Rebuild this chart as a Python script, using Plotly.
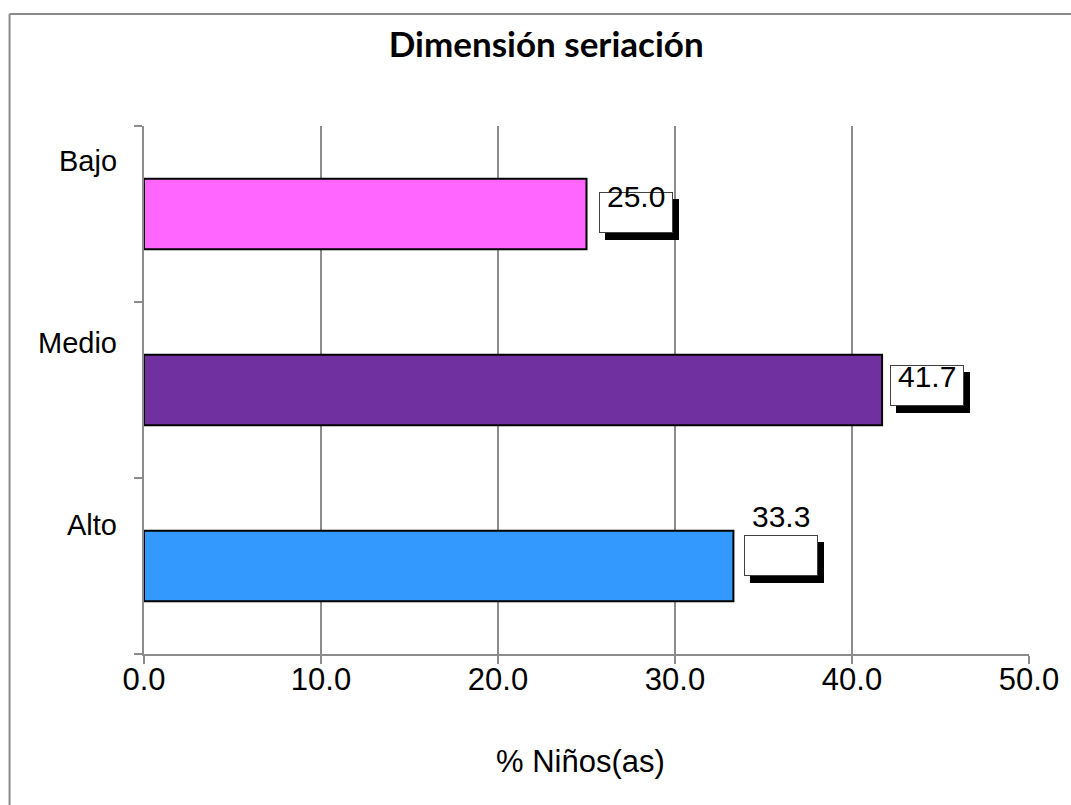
import plotly.graph_objects as go

# Levels of the "seriación" dimension and the share of children in each
niveles = ["Alto", "Medio", "Bajo"]
porcentajes = [33.3, 41.7, 25.0]
colores = ["#3399FF", "#7030A0", "#FF66FF"]
eje_x_ticks = [0, 10, 20, 30, 40, 50]

# Category label lift above each band centre (pixels)
etiqueta_dy = [41, 47, 53]
# Label-box placement (pixels): gap after bar end, box vertical shift, text vertical shift
caja_gap = [11, 8, 12]
caja_dy = [11, 5, 2]
texto_dy = [50, 14, 18]

CAJA_W, CAJA_H = 72, 39
FUENTE = "Liberation Sans, Arial, sans-serif"

fig = go.Figure()
fig.add_trace(go.Bar(
    y=niveles,
    x=porcentajes,
    orientation="h",
    marker=dict(color=colores, line=dict(color="#000000", width=2)),
    showlegend=False,
    hoverinfo="x+y",
))

annotations = []
# Category labels, set above each band
for nivel, dy in zip(niveles, etiqueta_dy):
    annotations.append(dict(
        x=0, xref="paper", y=nivel, yref="y",
        text=nivel, showarrow=False, xanchor="right", yanchor="middle",
        xshift=-25, yshift=dy,
        font=dict(family=FUENTE, size=29, color="#000000"),
    ))

# Value labels: shadow, white box, then the number
for nivel, v, gap, bdy, tdy in zip(niveles, porcentajes, caja_gap, caja_dy, texto_dy):
    annotations.append(dict(
        x=v, xref="x", y=nivel, yref="y", text=" ", showarrow=False,
        xanchor="left", yanchor="middle", xshift=gap + 6, yshift=bdy - 7,
        width=CAJA_W, height=CAJA_H, bgcolor="#000000",
        bordercolor="#000000", borderwidth=1, borderpad=0,
    ))
    annotations.append(dict(
        x=v, xref="x", y=nivel, yref="y", text=" ", showarrow=False,
        xanchor="left", yanchor="middle", xshift=gap, yshift=bdy,
        width=CAJA_W, height=CAJA_H, bgcolor="#FFFFFF",
        bordercolor="#404040", borderwidth=1, borderpad=0,
    ))
    annotations.append(dict(
        x=v, xref="x", y=nivel, yref="y", text=f"{v:.1f}", showarrow=False,
        xanchor="center", yanchor="middle", xshift=gap + CAJA_W / 2 + 1, yshift=tdy,
        font=dict(family=FUENTE, size=30, color="#000000"),
    ))

# Axis title, centred under the tick labels
annotations.append(dict(
    x=0.493, xref="paper", y=-0.203, yref="paper",
    text="% Niños(as)", showarrow=False, xanchor="center", yanchor="middle",
    font=dict(family=FUENTE, size=31, color="#000000"),
))

# Chart frame: only its left and top edges fall inside the page
marco = dict(color="#8A8A8A", width=2)
shapes = [
    dict(type="line", xref="paper", yref="paper", x0=-0.1519, x1=-0.1519,
         y0=-0.4, y1=1.2121, line=marco, layer="below"),
    dict(type="line", xref="paper", yref="paper", x0=-0.1519, x1=1.2,
         y0=1.2121, y1=1.2121, line=marco, layer="below"),
]

fig.update_layout(
    width=1071, height=805,
    margin=dict(l=144, r=36, t=126, b=151),
    paper_bgcolor="#FFFFFF", plot_bgcolor="#FFFFFF",
    bargap=0.6,
    title=dict(
        text="<b>Dimensión seriación</b>",
        x=0.51, xanchor="center", y=0.944, yanchor="middle",
        font=dict(family="Lato, Carlito, sans-serif", size=35, color="#000000"),
    ),
    annotations=annotations,
    shapes=shapes,
    xaxis=dict(
        range=[0, 50], tickvals=eje_x_ticks, tickformat=".1f",
        showgrid=True, gridcolor="#8C8C8C", gridwidth=1.5,
        showline=True, linecolor="#8C8C8C", linewidth=2,
        ticks="outside", ticklen=8, tickwidth=2, tickcolor="#8C8C8C",
        tickfont=dict(family=FUENTE, size=31, color="#000000"),
        ticklabelstandoff=-11,
        zeroline=False, fixedrange=True,
    ),
    yaxis=dict(
        type="category", categoryorder="array", categoryarray=niveles,
        range=[-0.5, 2.5], tickson="boundaries",
        showgrid=False, showticklabels=False,
        showline=True, linecolor="#8C8C8C", linewidth=2,
        ticks="outside", ticklen=8, tickwidth=2, tickcolor="#8C8C8C",
        zeroline=False, fixedrange=True,
    ),
)

fig.write_html("out.html")
